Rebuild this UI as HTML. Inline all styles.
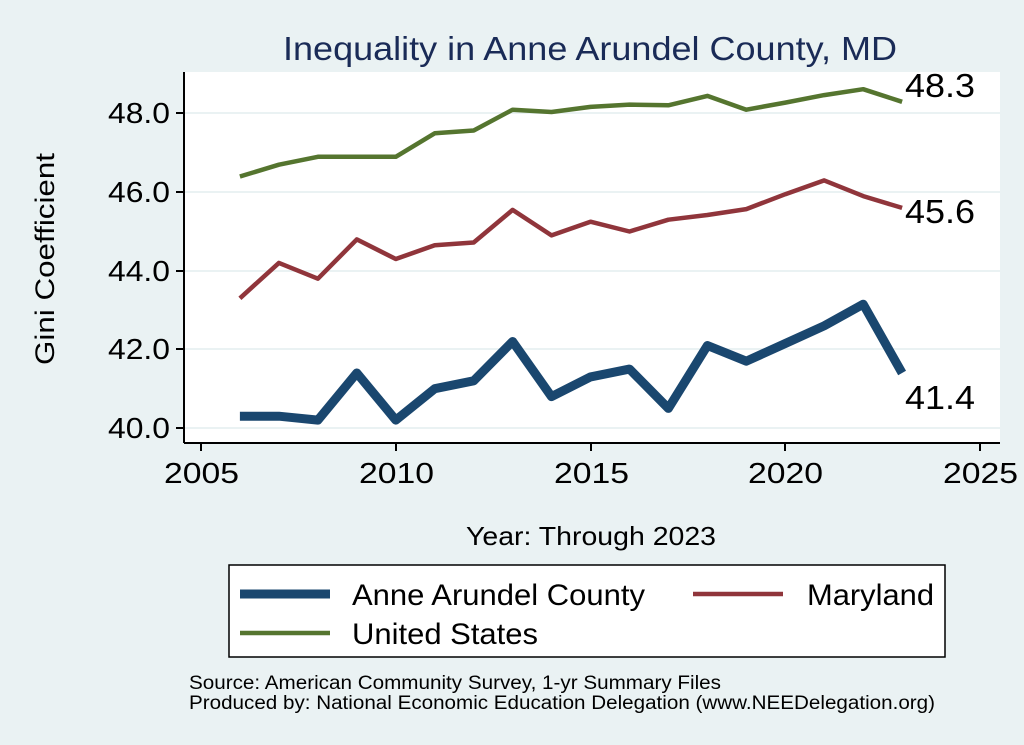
<!DOCTYPE html><html><head><style>body{margin:0;background:#eaf2f3}svg{display:block}text{white-space:pre}</style></head><body>
<svg id="s" width="1024" height="745" xmlns="http://www.w3.org/2000/svg" font-family="Liberation Sans, sans-serif">
<rect width="1024" height="745" fill="#eaf2f3"/>
<rect x="184" y="72" width="816" height="371" fill="#fff"/>
<text x="283" y="60" font-size="33" fill="#1a2b57" textLength="614" lengthAdjust="spacingAndGlyphs">Inequality in Anne Arundel County, MD</text>
<g stroke="#eaf2f3" stroke-width="2">
<line x1="184" x2="1000" y1="428" y2="428"/><line x1="184" x2="1000" y1="349" y2="349"/><line x1="184" x2="1000" y1="271" y2="271"/><line x1="184" x2="1000" y1="192" y2="192"/><line x1="184" x2="1000" y1="113" y2="113"/></g>
<g stroke="#000" stroke-width="2"><line x1="184" y1="72" x2="184" y2="443"/><line x1="184" y1="443" x2="1000" y2="443"/>
<line x1="176" x2="184" y1="428" y2="428"/><line x1="176" x2="184" y1="349" y2="349"/><line x1="176" x2="184" y1="271" y2="271"/><line x1="176" x2="184" y1="192" y2="192"/><line x1="176" x2="184" y1="113" y2="113"/>
<line x1="201" x2="201" y1="443" y2="451"/><line x1="396" x2="396" y1="443" y2="451"/><line x1="591" x2="591" y1="443" y2="451"/><line x1="785" x2="785" y1="443" y2="451"/><line x1="980" x2="980" y1="443" y2="451"/></g>
<g font-size="29"><text x="108" y="438" textLength="62" lengthAdjust="spacingAndGlyphs">40.0</text><text x="108" y="359" textLength="62" lengthAdjust="spacingAndGlyphs">42.0</text><text x="108" y="281" textLength="62" lengthAdjust="spacingAndGlyphs">44.0</text><text x="108" y="202" textLength="62" lengthAdjust="spacingAndGlyphs">46.0</text><text x="108" y="123" textLength="62" lengthAdjust="spacingAndGlyphs">48.0</text></g>
<g font-size="29"><text x="164" y="483" textLength="75" lengthAdjust="spacingAndGlyphs">2005</text><text x="359" y="483" textLength="75" lengthAdjust="spacingAndGlyphs">2010</text><text x="554" y="483" textLength="75" lengthAdjust="spacingAndGlyphs">2015</text><text x="748" y="483" textLength="75" lengthAdjust="spacingAndGlyphs">2020</text><text x="943" y="483" textLength="75" lengthAdjust="spacingAndGlyphs">2025</text></g>
<text x="466" y="545" font-size="26" textLength="250" lengthAdjust="spacingAndGlyphs">Year: Through 2023</text>
<text transform="translate(54,259) rotate(-90)" x="-106" font-size="27" textLength="212" lengthAdjust="spacingAndGlyphs">Gini Coefficient</text>
<g id="lines" fill="none" stroke-linejoin="round"></g>
<g font-size="33"><text x="905" y="97" textLength="70" lengthAdjust="spacingAndGlyphs">48.3</text><text x="905" y="223" textLength="70" lengthAdjust="spacingAndGlyphs">45.6</text><text x="905" y="409" textLength="70" lengthAdjust="spacingAndGlyphs">41.4</text></g>
<rect x="229" y="565" width="716" height="92" fill="#fff" stroke="#000" stroke-width="1.5"/>
<line x1="240" x2="330" y1="594" y2="594" stroke="#1a476f" stroke-width="9"/>
<line x1="693" x2="783" y1="594" y2="594" stroke="#90353b" stroke-width="4.5"/>
<line x1="240" x2="330" y1="633" y2="633" stroke="#55752f" stroke-width="4.5"/>
<g font-size="30"><text x="352" y="605" textLength="293" lengthAdjust="spacingAndGlyphs">Anne Arundel County</text><text x="807" y="605" textLength="127" lengthAdjust="spacingAndGlyphs">Maryland</text><text x="352" y="644" textLength="186" lengthAdjust="spacingAndGlyphs">United States</text></g>
<g font-size="19"><text x="189" y="689" textLength="532" lengthAdjust="spacingAndGlyphs">Source: American Community Survey, 1-yr Summary Files</text><text x="189" y="709" textLength="746" lengthAdjust="spacingAndGlyphs">Produced by: National Economic Education Delegation (www.NEEDelegation.org)</text></g>
</svg>
<script>
var aa=[40.3,40.3,40.2,41.4,40.2,41.0,41.2,42.2,40.8,41.3,41.5,40.5,42.1,41.7,42.15,42.6,43.15,41.4];
var md=[43.3,44.2,43.8,44.8,44.3,44.65,44.72,45.55,44.9,45.25,45.0,45.3,45.42,45.57,45.95,46.3,45.9,45.6];
var us=[46.4,46.7,46.9,46.9,46.9,47.5,47.57,48.1,48.04,48.17,48.23,48.21,48.45,48.1,48.28,48.47,48.62,48.3];
function pts(a){return a.map(function(v,i){return (201+(i+1)*38.95).toFixed(1)+","+(428-(v-40)*39.3).toFixed(1)}).join(" ")}
var g=document.getElementById("lines"),h="";
[[us,"#55752f",4.5],[md,"#90353b",4.5],[aa,"#1a476f",9]].forEach(function(s){h+='<polyline points="'+pts(s[0])+'" stroke="'+s[1]+'" stroke-width="'+s[2]+'"/>'});
g.innerHTML=h;
</script>
</body></html>
